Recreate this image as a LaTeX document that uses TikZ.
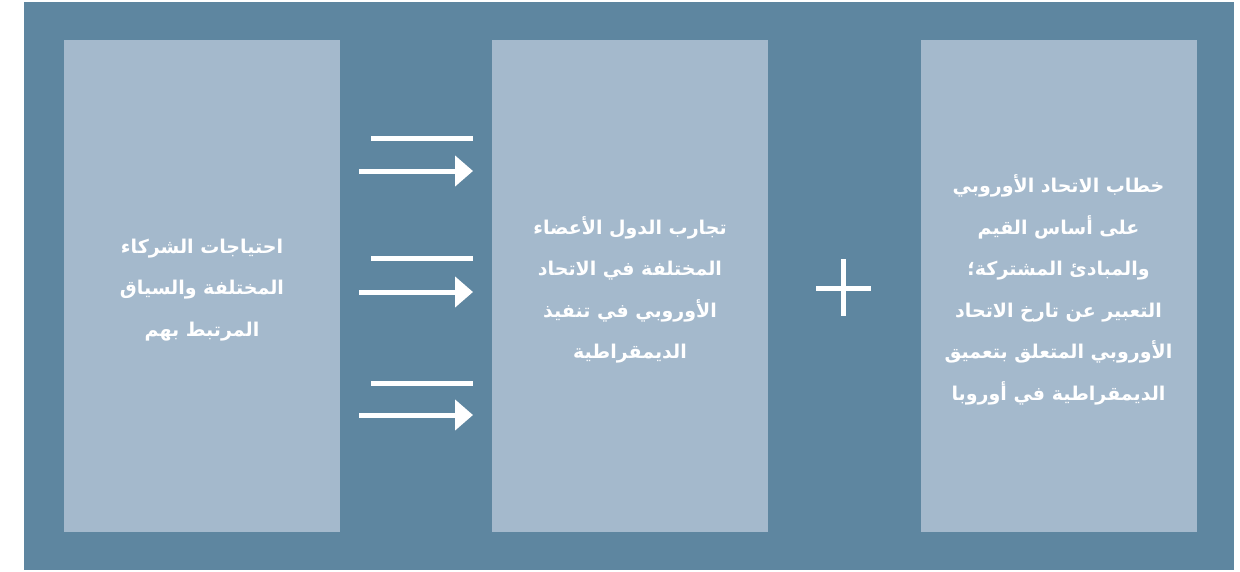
\documentclass[tikz,border=0pt]{standalone}
\usepackage{fontspec}
\usepackage{tikz}
\usetikzlibrary{arrows.meta}
\newfontfamily\arabicfont[Script=Arabic]{DejaVu Sans}
\TeXXeTstate=1
\definecolor{framebg}{HTML}{5E86A0}
\definecolor{panelbg}{HTML}{A4B9CC}

\begin{document}
\begin{tikzpicture}[x=1pt,y=-1pt,
		panel/.style={fill=panelbg,draw=none,minimum width=276pt,minimum height=492pt,inner sep=0pt},
		label/.style={text=white,align=center,font=\arabicfont\bfseries\fontsize{19}{41.5}\selectfont},
		bar/.style={white,line width=5pt}]
	\useasboundingbox (0,0) rectangle (1240,571);
	\fill[framebg] (24,2) rectangle (1234,570);
	% the three panels
	\node[panel] (needs) at (202,286) {};
	\node[panel] (experience) at (630,286) {};
	\node[panel] (discourse) at (1058.5,286) {};
	\node[label] (needstext) at (202,290) {\beginR احتياجات الشركاء\endR\\\beginR المختلفة والسياق\endR\\\beginR المرتبط بهم\endR};
	\node[label] (experiencetext) at (630,290) {\beginR تجارب الدول الأعضاء\endR\\\beginR المختلفة في الاتحاد\endR\\\beginR الأوروبي في تنفيذ\endR\\\beginR الديمقراطية\endR};
	\node[label] (discoursetext) at (1058.5,290) {\beginR خطاب الاتحاد الأوروبي\endR\\\beginR على أساس القيم\endR\\\beginR والمبادئ المشتركة؛\endR\\\beginR التعبير عن تارخ الاتحاد\endR\\\beginR الأوروبي المتعلق بتعميق\endR\\\beginR الديمقراطية في أوروبا\endR};
	% arrows between first and second panel
	\foreach \y/\a in {138/171,258/292,383/415}{
		\draw[bar] (371,\y) -- (473,\y);
		\draw[bar,-{Triangle[length=18pt,width=30pt]}] (359,\a) -- (473,\a);
	}
	% plus sign
	\draw[bar] (816,288) -- (871,288);
	\draw[bar] (843,259) -- (843,316);
\end{tikzpicture}
\end{document}
